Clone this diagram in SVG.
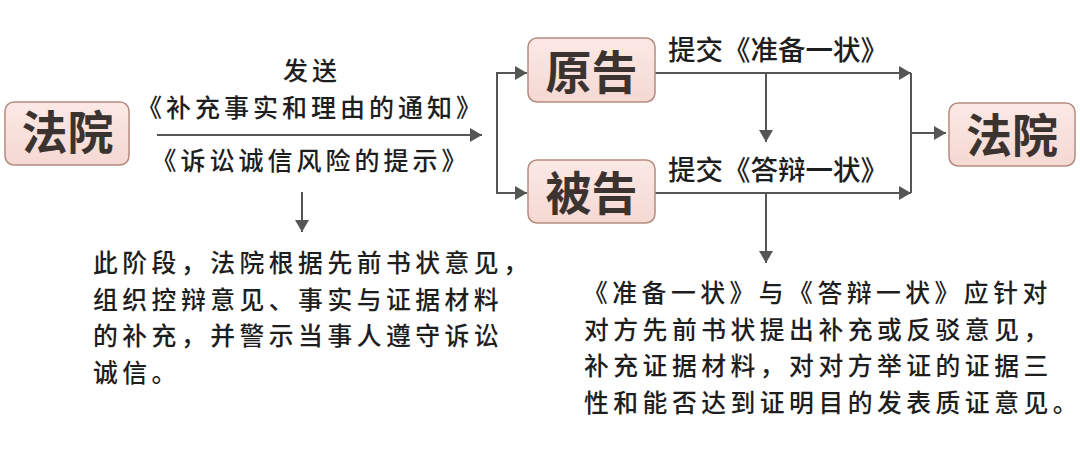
<svg xmlns="http://www.w3.org/2000/svg" width="1080" height="453" viewBox="0 0 1080 453">
<style>
.box{fill:url(#pink);stroke:#b58c80;stroke-width:1.5}
.bt{font-family:"Noto Sans CJK SC",sans-serif;font-weight:700;font-size:46px;fill:#3b3330;text-anchor:middle}
.t{font-family:"Noto Sans CJK SC",sans-serif;fill:#1e1e1e;font-weight:500}
.mid{font-size:25px;letter-spacing:4px;text-anchor:middle;font-feature-settings:"halt"}
.lab{font-size:27.5px}
.para{font-size:24.8px;letter-spacing:4.5px}
.c{fill:none;stroke:#555;stroke-width:2}
</style>
<defs>
<linearGradient id="pink" x1="0" y1="0" x2="0" y2="1">
<stop offset="0" stop-color="#fbe9e6"/>
<stop offset="1" stop-color="#f5d8d2"/>
</linearGradient>
<marker id="ah" markerUnits="userSpaceOnUse" markerWidth="12" markerHeight="14" refX="12" refY="7" orient="auto-start-reverse" viewBox="0 0 12 14">
<path d="M0,0 L12,7 L0,14 z" fill="#555"/>
</marker>
</defs>
<rect width="1080" height="453" fill="#ffffff"/>
<g id="connectors">
<path class="c" d="M157,135 H482" marker-end="url(#ah)"/>
<path class="c" d="M302,192 V232" marker-end="url(#ah)"/>
<path class="c" d="M527,73 H497 V193 H527" marker-start="url(#ah)" marker-end="url(#ah)"/>
<path class="c" d="M655,73 H911" marker-end="url(#ah)"/>
<path class="c" d="M655,193 H911" marker-end="url(#ah)"/>
<path class="c" d="M766,73 V142" marker-end="url(#ah)"/>
<path class="c" d="M766,193 V263" marker-end="url(#ah)"/>
<path class="c" d="M911,73 V193"/>
<path class="c" d="M911,133 H946" marker-end="url(#ah)"/>
</g>
<g id="node-court-left">
<rect class="box" x="5" y="102" width="124" height="63" rx="9"/>
<text class="bt" x="67.5" y="148.5">法院</text>
</g>
<g id="node-plaintiff">
<rect class="box" x="528" y="38" width="127" height="64" rx="9"/>
<text class="bt" x="591.5" y="88.5">原告</text>
</g>
<g id="node-defendant">
<rect class="box" x="528" y="160" width="127" height="63" rx="9"/>
<text class="bt" x="591.5" y="210">被告</text>
</g>
<g id="node-court-right">
<rect class="box" x="949" y="103" width="126" height="63" rx="9"/>
<text class="bt" x="1012" y="152">法院</text>
</g>
<g id="labels">
<text class="t mid" x="312" y="80">发送</text>
<text class="t mid" x="311" y="117">《补充事实和理由的通知》</text>
<text class="t mid" x="311" y="170">《诉讼诚信风险的提示》</text>
<text class="t lab" x="668" y="60">提交《准备一状》</text>
<text class="t lab" x="668" y="180">提交《答辩一状》</text>
</g>
<g id="note-left">
<text class="t para"><tspan x="93" y="272">此阶段，法院根据先前书状意见，</tspan><tspan x="93" y="309">组织控辩意见、事实与证据材料</tspan><tspan x="93" y="345">的补充，并警示当事人遵守诉讼</tspan><tspan x="93" y="382">诚信。</tspan></text>
</g>
<g id="note-right">
<text class="t para"><tspan x="583" y="302">《准备一状》与《答辩一状》应针对</tspan><tspan x="584" y="338.5">对方先前书状提出补充或反驳意见，</tspan><tspan x="584" y="375">补充证据材料，对对方举证的证据三</tspan><tspan x="584" y="411.5">性和能否达到证明目的发表质证意见。</tspan></text>
</g>
</svg>
